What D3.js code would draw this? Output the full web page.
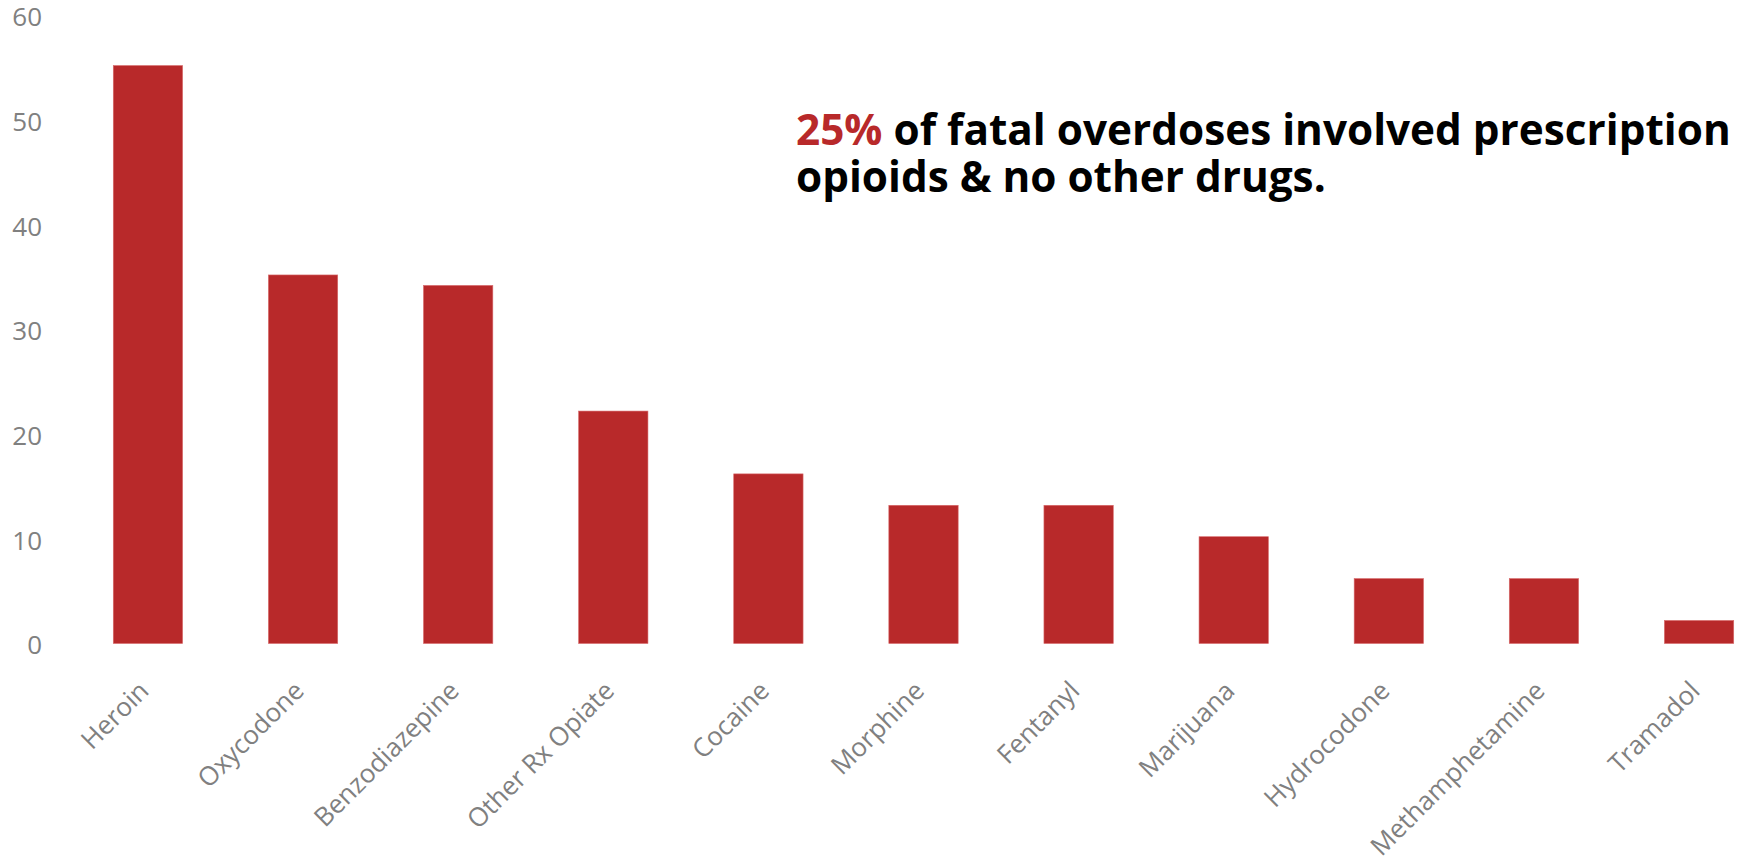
<!DOCTYPE html>
<html>
<head>
<meta charset="utf-8">
<script src="https://cdn.jsdelivr.net/npm/d3@7"></script>
<style>
  body { margin: 0; background: #fff; }
  text { font-family: "Open Sans", sans-serif; }
</style>
</head>
<body>
<div id="container"></div>
<script>

const drugs = ['Heroin', 'Oxycodone', 'Benzodiazepine', 'Other Rx Opiate', 'Cocaine', 'Morphine',
               'Fentanyl', 'Marijuana', 'Hydrocodone', 'Methamphetamine', 'Tramadol'];
const pct = [55.2, 35.2, 34.2, 22.2, 16.2, 13.2, 13.2, 10.2, 6.2, 6.2, 2.2];
const yTicks = [0, 10, 20, 30, 40, 50, 60];

const RED = '#b8292a';
const GREY = '#808080';

const width = 1739;
const height = 857;

// band scale runs a bit past the right edge, like the original
let x = d3.scaleBand()
    .domain(drugs)
    .range([27.5, 1819.5])
    .padding(0.553);

let y = d3.scaleLinear()
    .domain([0, 60])
    .range([643.5, 15.3]);

const svg = d3.create('svg')
    .attr('width', width)
    .attr('height', height);

// y labels, no axis line
svg.append('g').selectAll('text').data(yTicks).enter().append('text')
    .attr('x', 42)
    .attr('y', d => y(d))
    .attr('dy', '0.42em')
    .attr('text-anchor', 'end')
    .attr('font-size', 26)
    .attr('fill', GREY)
    .text(d => d);

svg.append('g').selectAll('rect').data(drugs).enter().append('rect')
    .attr('x', d => x(d))
    .attr('width', x.bandwidth())
    .attr('y', (d, i) => y(pct[i]))
    .attr('height', (d, i) => y(0) - y(pct[i]))
    .attr('fill', RED)
    .attr('stroke', '#d86a6b')
    .attr('stroke-width', 0.6);

// rotated category labels
svg.append('g').selectAll('text').data(drugs).enter().append('text')
    .attr('transform', d => `translate(${x(d) + x.bandwidth() / 2 - 4}, 686) rotate(-45)`)
    .attr('text-anchor', 'end')
    .attr('dy', '0.35em')
    .attr('font-size', 26)
    .attr('fill', GREY)
    .text(d => d);

// note
let note = svg.append('text')
    .attr('x', 796)
    .attr('y', 145)
    .attr('font-size', 42.3)
    .attr('font-weight', 700)
    .attr('fill', '#000');
note.append('tspan').attr('fill', RED).text('25%');
note.append('tspan').text(' of fatal overdoses involved prescription');
svg.append('text')
    .attr('x', 796)
    .attr('y', 192)
    .attr('font-size', 42.3)
    .attr('font-weight', 700)
    .attr('fill', '#000')
    .text('opioids & no other drugs.');

container.append(svg.node());

</script>
</body>
</html>
